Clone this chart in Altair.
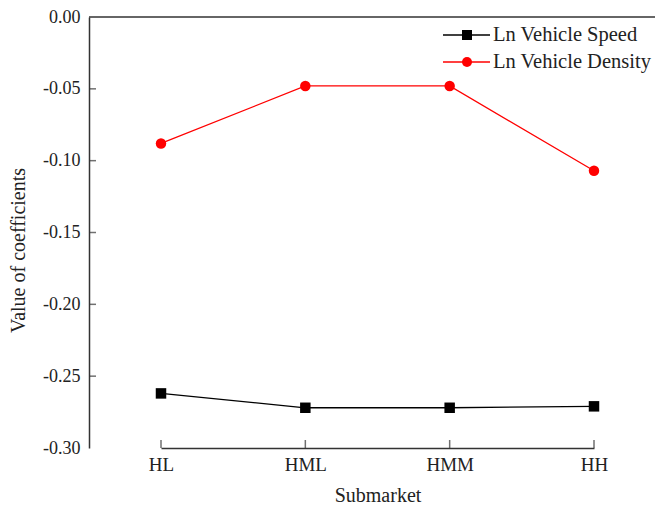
import altair as alt
import pandas as pd

categories = ["HL", "HML", "HMM", "HH"]
speed = [-0.262, -0.272, -0.272, -0.271]
density = [-0.088, -0.048, -0.048, -0.107]
series_names = ["Ln Vehicle Speed", "Ln Vehicle Density"]
y_ticks = [0.0, -0.05, -0.10, -0.15, -0.20, -0.25, -0.30]

FONT = "Liberation Serif"
W, H = 566, 431

rows = []
for c, s, d in zip(categories, speed, density):
    rows.append({"cat": c, "series": series_names[0], "value": s})
    rows.append({"cat": c, "series": series_names[1], "value": d})
df = pd.DataFrame(rows)

xscale = alt.Scale(type="point", domain=categories, padding=0, range=[72, 505])
yscale = alt.Scale(domain=[-0.3, 0.0], nice=False, zero=False)
cscale = alt.Scale(domain=series_names, range=["#000000", "#ff0000"])
sscale = alt.Scale(domain=series_names, range=["square", "circle"])

common = dict(labelFont=FONT, labelColor="#222", titleFont=FONT,
              titleFontWeight="normal", titleColor="#222", domainColor="#333",
              domainWidth=1.5, grid=False, ticks=False)
x_axis = alt.Axis(title="Submarket", labelAngle=0, labelFontSize=19, titleFontSize=20,
                  labelPadding=7, titlePadding=11, **common)
y_axis = alt.Axis(title="Value of coefficients", values=y_ticks, format=".2f",
                  labelExpr="replace(datum.label, '\u2212', '-')",
                  labelFontSize=18, titleFontSize=20, labelPadding=9, titlePadding=14,
                  titleY=233, **common)

base = alt.Chart(df)
lines = base.mark_line(strokeWidth=1.3).encode(
    x=alt.X("cat:N", scale=xscale, axis=x_axis, sort=categories),
    y=alt.Y("value:Q", scale=yscale, axis=y_axis),
    color=alt.Color("series:N", scale=cscale, legend=None),
    detail="series:N",
)
points = base.mark_point(filled=True, size=110, opacity=1).encode(
    x=alt.X("cat:N", scale=xscale, sort=categories, axis=x_axis),
    y=alt.Y("value:Q", scale=yscale, axis=y_axis),
    color=alt.Color("series:N", scale=cscale, legend=None),
    shape=alt.Shape("series:N", scale=sscale, legend=None),
)

ytick_df = pd.DataFrame({"v": y_ticks[1:-1]})
yticks = alt.Chart(ytick_df).mark_tick(orient="horizontal", size=7, thickness=1.5,
                                        color="#333").encode(
    y=alt.Y("v:Q", scale=yscale, axis=y_axis), x=alt.value(3.5))
xtick_df = pd.DataFrame({"cat": categories})
xticks = alt.Chart(xtick_df).mark_tick(orient="vertical", size=8, thickness=1.5,
                                        color="#333").encode(
    x=alt.X("cat:N", scale=xscale, sort=categories, axis=x_axis), y=alt.value(H - 4))

top_line = alt.Chart(pd.DataFrame({"a": [0]})).mark_rule(color="#333", strokeWidth=1.5).encode(
    x=alt.value(0), x2=alt.value(W), y=alt.value(0))

legend_layers = []
for i, (name, col, shp) in enumerate(zip(series_names, ["#000000", "#ff0000"],
                                          ["square", "circle"])):
    ly = 18 + 27 * i
    one = alt.Chart(pd.DataFrame({"name": [name]}))
    legend_layers.append(one.mark_rule(color=col, strokeWidth=1.3).encode(
        x=alt.value(354), x2=alt.value(401), y=alt.value(ly)))
    legend_layers.append(one.mark_point(shape=shp, filled=True, size=100, color=col,
                                        opacity=1).encode(
        x=alt.value(378), y=alt.value(ly)))
    legend_layers.append(one.mark_text(align="left", baseline="middle", font=FONT,
                                       fontSize=20.5, color="#222").encode(
        x=alt.value(404), y=alt.value(ly), text="name:N"))

chart = alt.layer(lines, points, yticks, xticks, top_line, *legend_layers).properties(
    width=W, height=H, background="white",
    autosize=alt.AutoSizeParams(type="none"),
    padding={"left": 81, "top": 9, "right": 0, "bottom": 58},
).configure_view(stroke=None).configure_axis(labelFont=FONT, titleFont=FONT)

chart.save("out.html", embed_options={"renderer": "svg", "actions": False})
